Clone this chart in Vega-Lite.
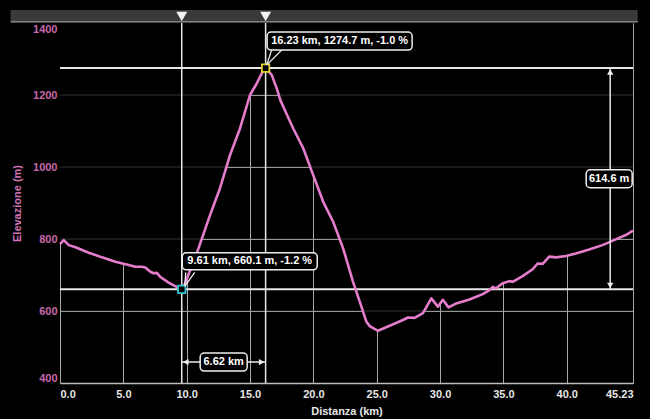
{
  "$schema": "https://vega.github.io/schema/vega-lite/v6.json",
  "width": 573,
  "height": 360,
  "autosize": {"type": "none"},
  "padding": {"left": 60, "top": 23, "right": 17, "bottom": 36},
  "background": "#000000",
  "config": {
    "view": {"stroke": null},
    "font": "Liberation Sans",
    "text": {"font": "Liberation Sans"}
  },
  "datasets": {
    "profile": [
      {"km": 0, "elev": 786}, {"km": 0.3, "elev": 797}, {"km": 0.69, "elev": 783}, {"km": 1.22, "elev": 777},
      {"km": 2.27, "elev": 762}, {"km": 3.32, "elev": 749}, {"km": 4.37, "elev": 737}, {"km": 5.42, "elev": 728},
      {"km": 5.94, "elev": 723}, {"km": 6.47, "elev": 723}, {"km": 6.73, "elev": 721}, {"km": 7.13, "elev": 709},
      {"km": 7.39, "elev": 705}, {"km": 7.65, "elev": 706}, {"km": 7.91, "elev": 695}, {"km": 8.57, "elev": 679},
      {"km": 9.09, "elev": 669}, {"km": 9.61, "elev": 660.1}, {"km": 9.88, "elev": 677}, {"km": 10.93, "elev": 774},
      {"km": 11.85, "elev": 867}, {"km": 12.63, "elev": 941}, {"km": 13.42, "elev": 1033}, {"km": 14.21, "elev": 1107},
      {"km": 15.0, "elev": 1200}, {"km": 15.53, "elev": 1232}, {"km": 16.05, "elev": 1269}, {"km": 16.23, "elev": 1274.7},
      {"km": 16.71, "elev": 1256}, {"km": 17.1, "elev": 1219}, {"km": 17.4, "elev": 1185}, {"km": 17.85, "elev": 1150},
      {"km": 18.41, "elev": 1107}, {"km": 19.2, "elev": 1052}, {"km": 19.98, "elev": 978}, {"km": 20.77, "elev": 904},
      {"km": 21.56, "elev": 848}, {"km": 22.35, "elev": 774}, {"km": 23.13, "elev": 681}, {"km": 23.66, "elev": 626},
      {"km": 24.19, "elev": 570}, {"km": 24.45, "elev": 558}, {"km": 25.1, "elev": 545}, {"km": 26.16, "elev": 561},
      {"km": 27.07, "elev": 575}, {"km": 27.47, "elev": 582}, {"km": 27.99, "elev": 581}, {"km": 28.65, "elev": 594},
      {"km": 29.31, "elev": 635}, {"km": 29.83, "elev": 612}, {"km": 30.22, "elev": 631}, {"km": 30.67, "elev": 610},
      {"km": 31.28, "elev": 621}, {"km": 32.32, "elev": 632}, {"km": 33.37, "elev": 647}, {"km": 33.9, "elev": 658},
      {"km": 34.16, "elev": 667}, {"km": 34.42, "elev": 663}, {"km": 34.94, "elev": 677}, {"km": 35.47, "elev": 683},
      {"km": 35.73, "elev": 681}, {"km": 36.52, "elev": 697}, {"km": 37.31, "elev": 716}, {"km": 37.7, "elev": 732},
      {"km": 38.1, "elev": 731}, {"km": 38.62, "elev": 751}, {"km": 39.15, "elev": 749}, {"km": 39.94, "elev": 753},
      {"km": 40.72, "elev": 760}, {"km": 41.77, "elev": 771}, {"km": 42.82, "elev": 783}, {"km": 43.87, "elev": 799},
      {"km": 44.66, "elev": 811}, {"km": 45.23, "elev": 823}
    ],
    "hgrid": [{"elev": 600}, {"elev": 800}, {"elev": 1000}, {"elev": 1200}],
    "points": [
      {"km": 9.61, "elev": 660.1, "label": "9.61 km, 660.1 m, -1.2 %", "kind": "start"},
      {"km": 16.23, "elev": 1274.7, "label": "16.23 km, 1274.7 m, -1.0 %", "kind": "peak"}
    ],
    "dist": [{"from": 9.61, "to": 16.23, "mid": 12.92, "label": "6.62 km"}],
    "gain": [{"from": 660.1, "to": 1274.7, "mid": 967.4, "label": "614.6 m"}],
    "frame": [{"name": "bar"}]
  },
  "layer": [
    {
      "data": {"name": "profile"},
      "mark": {"type": "area", "fill": "#000000"},
      "encoding": {
        "x": {
          "field": "km", "type": "quantitative",
          "scale": {"domain": [0, 45.23], "nice": false, "zero": false},
          "axis": {
            "values": [0, 5, 10, 15, 20, 25, 30, 35, 40, 45.23],
            "labelExpr": "datum.value == 45.23 ? '45.23' : format(datum.value, '.1f')",
            "labelFlush": true,
            "labelColor": "#e6e6e6",
            "labelFontSize": 11,
            "labelFontWeight": "bold",
            "labelPadding": 5,
            "ticks": false,
            "domain": true,
            "domainColor": "#bdbdbd",
            "domainWidth": 1.5,
            "grid": true,
            "gridColor": "#a8a8a8",
            "gridWidth": 1,
            "title": "Distanza (km)",
            "titleColor": "#e6e6e6",
            "titleFontSize": 11,
            "titleFontWeight": "bold",
            "titlePadding": 6
          }
        },
        "y": {
          "field": "elev", "type": "quantitative",
          "scale": {"domain": [400, 1400], "nice": false, "zero": false},
          "axis": {
            "values": [400, 600, 800, 1000, 1200, 1400],
            "format": "d",
            "labelFlush": true,
            "labelColor": "#c86aab",
            "labelFontSize": 11,
            "labelFontWeight": "bold",
            "labelPadding": 3,
            "ticks": false,
            "domain": false,
            "grid": true,
            "gridColor": "#8c8c8c",
            "gridWidth": 1,
            "title": "Elevazione (m)",
            "titleColor": "#d374b6",
            "titleFontSize": 11,
            "titleFontWeight": "bold",
            "titlePadding": 10
          }
        },
        "y2": {"datum": 1400}
      }
    },
    {
      "data": {"name": "hgrid"},
      "mark": {"type": "rule", "color": "#ffffff", "opacity": 0.2, "strokeWidth": 1},
      "encoding": {"y": {"field": "elev", "type": "quantitative"}}
    },
    {
      "data": {"name": "frame"},
      "mark": {"type": "rect", "fill": "#3a3a3a", "clip": false},
      "encoding": {
        "x": {"datum": -3.9, "type": "quantitative"},
        "x2": {"datum": 45.6},
        "y": {"datum": 1436, "type": "quantitative"},
        "y2": {"datum": 1403}
      }
    },
    {
      "data": {"name": "frame"},
      "mark": {"type": "rule", "color": "#9a9a9a", "strokeWidth": 1.2, "clip": false},
      "encoding": {
        "x": {"datum": -3.9, "type": "quantitative"},
        "x2": {"datum": 45.6},
        "y": {"datum": 1403, "type": "quantitative"}
      }
    },
    {
      "data": {"name": "points"},
      "mark": {"type": "rule", "color": "#e8e8e8", "strokeWidth": 2},
      "encoding": {"y": {"field": "elev", "type": "quantitative"}}
    },
    {
      "data": {"name": "points"},
      "mark": {"type": "rule", "color": "#e8e8e8", "strokeWidth": 1.5},
      "encoding": {"x": {"field": "km", "type": "quantitative"}}
    },
    {
      "mark": {"type": "rule", "color": "#cfcfcf", "strokeWidth": 1.5},
      "encoding": {"x": {"datum": 0}}
    },
    {
      "mark": {"type": "rule", "color": "#bdbdbd", "strokeWidth": 1.5},
      "encoding": {"x": {"datum": 45.23}}
    },
    {
      "data": {"name": "profile"},
      "mark": {"type": "line", "color": "#e57dcc", "strokeWidth": 2.6, "strokeJoin": "round"},
      "encoding": {
        "x": {"field": "km", "type": "quantitative"},
        "y": {"field": "elev", "type": "quantitative"}
      }
    },
    {
      "data": {"name": "gain"},
      "layer": [
        {
          "mark": {"type": "rule", "color": "#e8e8e8", "strokeWidth": 1.5},
          "encoding": {
            "x": {"datum": 43.43},
            "y": {"field": "from", "type": "quantitative"},
            "y2": {"field": "to"}
          }
        },
        {
          "mark": {"type": "point", "shape": "triangle-up", "filled": true, "color": "#eeeeee", "size": 40, "opacity": 1, "yOffset": 4},
          "encoding": {"x": {"datum": 43.43}, "y": {"field": "to", "type": "quantitative"}}
        },
        {
          "mark": {"type": "point", "shape": "triangle-down", "filled": true, "color": "#eeeeee", "size": 40, "opacity": 1, "yOffset": -4},
          "encoding": {"x": {"datum": 43.43}, "y": {"field": "from", "type": "quantitative"}}
        },
        {
          "mark": {"type": "rect", "width": 46, "height": 18, "cornerRadius": 4, "fill": "#000000", "stroke": "#eeeeee", "strokeWidth": 1.5},
          "encoding": {"x": {"datum": 43.35}, "y": {"field": "mid", "type": "quantitative"}}
        },
        {
          "mark": {"type": "text", "color": "#ffffff", "fontSize": 11, "fontWeight": "bold", "align": "center", "baseline": "middle"},
          "encoding": {"x": {"datum": 43.35}, "y": {"field": "mid", "type": "quantitative"}, "text": {"field": "label"}}
        }
      ]
    },
    {
      "data": {"name": "dist"},
      "layer": [
        {
          "mark": {"type": "rule", "color": "#e8e8e8", "strokeWidth": 1.5},
          "encoding": {
            "x": {"field": "from", "type": "quantitative"},
            "x2": {"field": "to"},
            "y": {"datum": 458}
          }
        },
        {
          "mark": {"type": "point", "shape": "triangle-left", "filled": true, "color": "#eeeeee", "size": 40, "opacity": 1, "xOffset": 4},
          "encoding": {"x": {"field": "from", "type": "quantitative"}, "y": {"datum": 458}}
        },
        {
          "mark": {"type": "point", "shape": "triangle-right", "filled": true, "color": "#eeeeee", "size": 40, "opacity": 1, "xOffset": -4},
          "encoding": {"x": {"field": "to", "type": "quantitative"}, "y": {"datum": 458}}
        },
        {
          "mark": {"type": "rect", "width": 47, "height": 18, "cornerRadius": 4, "fill": "#000000", "stroke": "#eeeeee", "strokeWidth": 1.5},
          "encoding": {"x": {"field": "mid", "type": "quantitative"}, "y": {"datum": 458}}
        },
        {
          "mark": {"type": "text", "color": "#ffffff", "fontSize": 11, "fontWeight": "bold", "align": "center", "baseline": "middle"},
          "encoding": {"x": {"field": "mid", "type": "quantitative"}, "y": {"datum": 458}, "text": {"field": "label"}}
        }
      ]
    },
    {
      "data": {"name": "points"},
      "layer": [
        {
          "mark": {"type": "point", "shape": "triangle-down", "filled": true, "color": "#f2f2f2", "size": 120, "opacity": 1, "clip": false},
          "encoding": {"x": {"field": "km", "type": "quantitative"}, "y": {"datum": 1418}}
        },
        {
          "mark": {"type": "point", "shape": "square", "filled": false, "fill": "#000000", "fillOpacity": 1, "size": 55, "strokeWidth": 1.8, "opacity": 1},
          "encoding": {
            "x": {"field": "km", "type": "quantitative"},
            "y": {"field": "elev", "type": "quantitative"},
            "stroke": {"field": "kind", "type": "nominal", "scale": {"domain": ["start", "peak"], "range": ["#2fc4cf", "#e0d030"]}, "legend": null}
          }
        },
        {
          "transform": [{"filter": "datum.kind == 'start'"}],
          "layer": [
            {
              "mark": {"type": "point", "shape": "M0.3,-0.3L0.4,-1.7M0.3,-0.3L1.3,-1.7", "filled": false, "stroke": "#eeeeee", "strokeWidth": 1.3, "size": 400, "opacity": 1},
              "encoding": {"x": {"field": "km", "type": "quantitative"}, "y": {"field": "elev", "type": "quantitative"}}
            },
            {
              "mark": {"type": "rect", "width": 135, "height": 17, "cornerRadius": 4, "fill": "#000000", "stroke": "#eeeeee", "strokeWidth": 1.5, "xOffset": 68, "yOffset": -28},
              "encoding": {"x": {"field": "km", "type": "quantitative"}, "y": {"field": "elev", "type": "quantitative"}}
            },
            {
              "mark": {"type": "text", "color": "#ffffff", "fontSize": 11, "fontWeight": "bold", "align": "center", "baseline": "middle", "xOffset": 68, "yOffset": -28},
              "encoding": {"x": {"field": "km", "type": "quantitative"}, "y": {"field": "elev", "type": "quantitative"}, "text": {"field": "label"}}
            }
          ]
        },
        {
          "transform": [{"filter": "datum.kind == 'peak'"}],
          "layer": [
            {
              "mark": {"type": "point", "shape": "M0.1,-0.3L0.6,-1.8M0.1,-0.3L1.6,-1.8", "filled": false, "stroke": "#eeeeee", "strokeWidth": 1.3, "size": 400, "opacity": 1},
              "encoding": {"x": {"field": "km", "type": "quantitative"}, "y": {"field": "elev", "type": "quantitative"}}
            },
            {
              "mark": {"type": "rect", "width": 145, "height": 18, "cornerRadius": 4, "fill": "#000000", "stroke": "#eeeeee", "strokeWidth": 1.5, "xOffset": 74, "yOffset": -27},
              "encoding": {"x": {"field": "km", "type": "quantitative"}, "y": {"field": "elev", "type": "quantitative"}}
            },
            {
              "mark": {"type": "text", "color": "#ffffff", "fontSize": 11, "fontWeight": "bold", "align": "center", "baseline": "middle", "xOffset": 74, "yOffset": -27},
              "encoding": {"x": {"field": "km", "type": "quantitative"}, "y": {"field": "elev", "type": "quantitative"}, "text": {"field": "label"}}
            }
          ]
        }
      ]
    }
  ]
}
